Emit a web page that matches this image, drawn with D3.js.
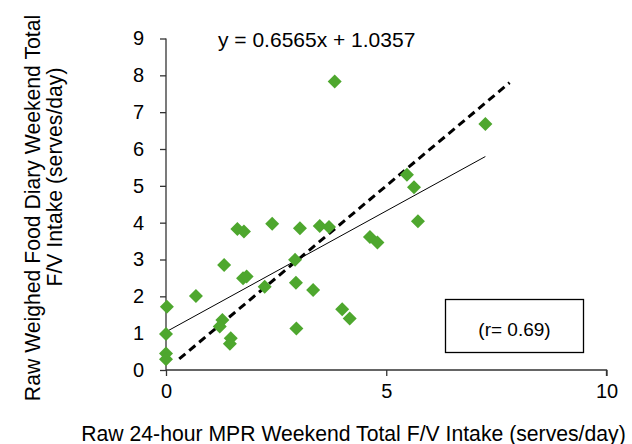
<!DOCTYPE html>
<html><head><meta charset="utf-8">
<script src="https://cdn.jsdelivr.net/npm/d3@7"></script>
<style>body{margin:0;background:#fff}svg{display:block}text{font-family:Arial,"Liberation Sans",sans-serif;fill:#000}</style>
</head><body><svg id="c" width="632" height="444"></svg>
<script>
const xVals = [0.02,0,0,0,0.68,1.32,1.28,1.22,1.47,1.45,1.62,1.77,1.75,1.83,2.24,2.41,2.93,2.95,2.96,3.04,3.34,3.49,3.70,4.00,4.17,4.63,4.80,3.83,7.25,5.47,5.63,5.72];
const yVals = [1.72,0.98,0.45,0.29,2.01,2.85,1.36,1.18,0.86,0.71,3.83,3.76,2.49,2.54,2.26,3.97,2.99,2.37,1.13,3.85,2.17,3.91,3.88,1.65,1.40,3.61,3.46,7.83,6.68,5.30,4.96,4.04];
const xTicks = [0,5,10];
const yTicks = [0,1,2,3,4,5,6,7,8,9];
const slope = 0.6565, intercept = 1.0357;
const trendRange = [0, 7.25];
const identityRange = [0.3, 7.8];
const equationLabel = "y = 0.6565x + 1.0357";
const rLabel = "(r= 0.69)";
const xTitle = "Raw 24-hour MPR Weekend Total F/V Intake (serves/day)";
const yTitleLines = ["Raw Weighed Food Diary Weekend Total", "F/V Intake (serves/day)"];

const svg = d3.select("#c");
const x = d3.scaleLinear().domain([0,10]).range([166,606.5]);
const y = d3.scaleLinear().domain([0,9]).range([370,38.5]);
const axisColor = "#333";
const fs = 20;

// axes
const gx = svg.append("g").attr("transform","translate(0,370)")
  .call(d3.axisBottom(x).tickValues(xTicks).tickSize(6).tickPadding(8).tickFormat(d3.format("d")));
const gy = svg.append("g").attr("transform","translate(166,0)")
  .call(d3.axisLeft(y).tickValues(yTicks).tickSize(6).tickPadding(16).tickFormat(d3.format("d")));
[gx,gy].forEach(g=>{
  g.select(".domain").attr("stroke",axisColor).attr("stroke-width",1.3);
  g.selectAll(".tick line").attr("stroke",axisColor).attr("stroke-width",1.3);
  g.selectAll(".tick text").attr("font-size",fs).attr("font-family","Arial, 'Liberation Sans', sans-serif").attr("fill","#000");
});
gy.select(".domain").attr("d", `M-0,${y(9)}V${y(0)}`);
gx.select(".domain").attr("d", `M${x(0)},0H${x(10)}V6`);

// identity dashed line
svg.append("line")
  .attr("x1",x(identityRange[0])).attr("y1",y(identityRange[0]))
  .attr("x2",x(identityRange[1])).attr("y2",y(identityRange[1]))
  .attr("stroke","#000").attr("stroke-width",3).attr("stroke-dasharray","8,5");

// trendline
svg.append("line")
  .attr("x1",x(trendRange[0])).attr("y1",y(slope*trendRange[0]+intercept))
  .attr("x2",x(trendRange[1])).attr("y2",y(slope*trendRange[1]+intercept))
  .attr("stroke","#000").attr("stroke-width",1);

// points
const pts = xVals.map((v,i)=>({x:v,y:yVals[i]}));
const dsym = d3.symbol().type(d3.symbolSquare).size(98);
svg.append("g").selectAll("path").data(pts).join("path")
  .attr("d", dsym)
  .attr("transform", d=>`translate(${x(d.x)},${y(d.y)}) rotate(45)`)
  .attr("fill","#4ea72e");

// equation
svg.append("text").attr("x",218).attr("y",47).attr("font-size",fs+1).text(equationLabel);

// r box
svg.append("rect").attr("x",445.5).attr("y",299.5).attr("width",138).attr("height",53)
  .attr("fill","none").attr("stroke","#000").attr("stroke-width",1.3);
svg.append("text").attr("x",514.5).attr("y",336).attr("text-anchor","middle").attr("font-size",fs-1).text(rLabel);

// titles
svg.append("text").attr("x",353.5).attr("y",441).attr("text-anchor","middle").attr("font-size",21.2).text(xTitle);
svg.append("text").attr("transform","translate(40,208) rotate(-90)").attr("text-anchor","middle").attr("font-size",21.2).text(yTitleLines[0]);
svg.append("text").attr("transform","translate(62,177) rotate(-90)").attr("text-anchor","middle").attr("font-size",21.2).text(yTitleLines[1]);
</script></body></html>
